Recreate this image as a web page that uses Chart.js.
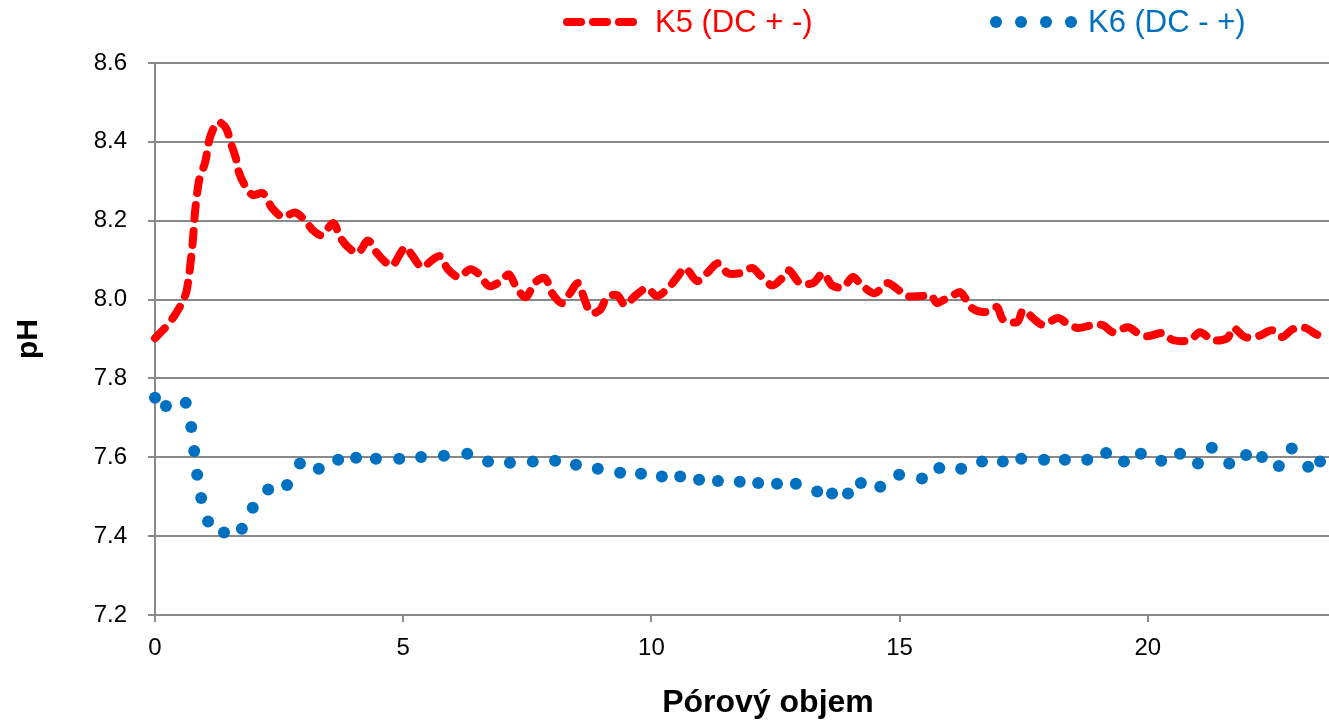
<!DOCTYPE html>
<html>
<head>
<meta charset="utf-8">
<title>pH - Pórový objem</title>
<script src="https://cdn.jsdelivr.net/npm/chart.js@4.4.1/dist/chart.umd.min.js"></script>
<style>
  html, body { margin: 0; padding: 0; background: #ffffff; }
  #graficoPh { display: block; }
</style>
</head>
<body>
<canvas id="graficoPh" width="1329" height="721"></canvas>
<script>
// K5 (DC + -) - cervena carkovana
const k5X = [0, 0.20, 0.36, 0.54, 0.64, 0.75, 0.81, 0.89, 1.01, 1.11, 1.27, 1.43, 1.53, 1.63, 1.69, 1.81, 1.97,
  2.17, 2.36, 2.58, 2.82, 3.02, 3.18, 3.36, 3.59, 3.73, 3.89, 4.09, 4.29, 4.47, 4.67, 4.79, 5.04, 5.18, 5.38,
  5.58, 5.74, 5.90, 6.12, 6.35, 6.53, 6.73, 6.97, 7.13, 7.29, 7.47, 7.66, 7.86, 8.00, 8.20, 8.36, 8.52, 8.66,
  8.78, 8.96, 9.11, 9.31, 9.47, 9.67, 9.91, 10.11, 10.35, 10.52, 10.68, 10.92, 11.12, 11.34, 11.54, 11.78,
  12.03, 12.19, 12.43, 12.63, 12.77, 12.99, 13.26, 13.46, 13.64, 13.86, 14.06, 14.24, 14.50, 14.75, 14.91,
  15.15, 15.45, 15.63, 15.75, 15.87, 16.08, 16.22, 16.32, 16.46, 16.72, 16.96, 17.08, 17.37, 17.49, 17.73,
  17.89, 18.19, 18.37, 18.59, 18.88, 19.10, 19.30, 19.60, 19.80, 20.00, 20.29, 20.51, 20.85, 21.05, 21.31,
  21.60, 21.72, 21.96, 22.22, 22.50, 22.70, 22.92, 23.17, 23.43, 23.65];
const k5Y = [7.902, 7.928, 7.953, 7.991, 8.024, 8.133, 8.227, 8.303, 8.348, 8.412, 8.450, 8.435, 8.396, 8.358,
  8.323, 8.290, 8.265, 8.270, 8.232, 8.209, 8.221, 8.201, 8.176, 8.163, 8.194, 8.158, 8.133, 8.118, 8.150,
  8.118, 8.092, 8.087, 8.133, 8.112, 8.082, 8.100, 8.110, 8.077, 8.057, 8.077, 8.064, 8.034, 8.047, 8.064,
  8.029, 8.006, 8.044, 8.054, 8.016, 7.991, 8.016, 8.042, 7.998, 7.966, 7.973, 8.006, 8.011, 7.986, 8.009,
  8.029, 8.009, 8.031, 8.057, 8.080, 8.047, 8.067, 8.092, 8.067, 8.067, 8.080, 8.062, 8.036, 8.054, 8.074,
  8.042, 8.042, 8.067, 8.036, 8.031, 8.057, 8.036, 8.016, 8.042, 8.031, 8.009, 8.009, 8.011, 7.991, 7.998,
  8.011, 8.019, 8.004, 7.978, 7.968, 7.981, 7.950, 7.943, 7.973, 7.948, 7.936, 7.953, 7.940, 7.928, 7.935,
  7.935, 7.917, 7.930, 7.915, 7.907, 7.915, 7.897, 7.897, 7.917, 7.897, 7.902, 7.928, 7.905, 7.907, 7.922,
  7.905, 7.925, 7.928, 7.910, 7.910];

// K6 (DC - +) - modre tecky
const k6X = [0, 0.22, 0.62, 0.73, 0.79, 0.85, 0.93, 1.07, 1.39, 1.75, 1.97, 2.28, 2.66, 2.92, 3.30, 3.69, 4.05,
  4.45, 4.92, 5.36, 5.82, 6.29, 6.71, 7.15, 7.61, 8.06, 8.48, 8.92, 9.37, 9.79, 10.21, 10.58, 10.96, 11.34,
  11.78, 12.15, 12.53, 12.91, 13.34, 13.64, 13.96, 14.22, 14.61, 14.99, 15.45, 15.80, 16.24, 16.66, 17.08,
  17.45, 17.91, 18.33, 18.78, 19.16, 19.52, 19.86, 20.27, 20.65, 21.01, 21.29, 21.64, 21.98, 22.30, 22.64,
  22.90, 23.23, 23.47];
const k6Y = [7.751, 7.730, 7.738, 7.677, 7.616, 7.556, 7.497, 7.437, 7.409, 7.419, 7.472, 7.518, 7.530, 7.584,
  7.571, 7.594, 7.599, 7.596, 7.596, 7.601, 7.604, 7.609, 7.589, 7.586, 7.589, 7.591, 7.581, 7.571, 7.561,
  7.558, 7.551, 7.551, 7.543, 7.540, 7.538, 7.535, 7.533, 7.533, 7.513, 7.508, 7.508, 7.535, 7.525, 7.556,
  7.546, 7.573, 7.571, 7.589, 7.589, 7.596, 7.594, 7.594, 7.594, 7.611, 7.589, 7.609, 7.591, 7.609, 7.584,
  7.624, 7.584, 7.606, 7.601, 7.578, 7.622, 7.576, 7.589];

// popisky os
const xTicks = [0, 5, 10, 15, 20];
const yTicks = [7.2, 7.4, 7.6, 7.8, 8.0, 8.2, 8.4, 8.6];
const seriesNames = ['K5 (DC + -)', 'K6 (DC - +)'];
const xTitle = 'Pórový objem';

const red = '#FF0000';
const blue = '#0070C0';
const gridColor = '#898989';
const font = "'Liberation Sans', Arial, sans-serif";

function body(xs, ys) {
  return xs.map((x, i) => ({ x: x, y: ys[i] }));
}

// legenda nahore (carky / tecky + text) a popis osy x
const legendaPlugin = {
  id: 'legenda',
  afterDraw(chart) {
    const ctx = chart.ctx;
    const y = 22;
    ctx.save();
    ctx.lineCap = 'round';
    ctx.strokeStyle = red;
    ctx.lineWidth = 8;
    ctx.setLineDash([14, 12]);
    ctx.beginPath();
    ctx.moveTo(567, y);
    ctx.lineTo(636, y);
    ctx.stroke();
    ctx.setLineDash([]);

    ctx.fillStyle = blue;
    [996, 1021, 1046, 1071].forEach(function (x) {
      ctx.beginPath();
      ctx.arc(x, y, 6, 0, Math.PI * 2);
      ctx.fill();
    });

    ctx.font = '31px ' + font;
    ctx.textBaseline = 'middle';
    ctx.textAlign = 'left';
    ctx.fillStyle = red;
    ctx.fillText(seriesNames[0], 655, y + 1);
    ctx.fillStyle = blue;
    ctx.fillText(seriesNames[1], 1088, y + 1);

    // nazev osy x (v originale posunuty doprava)
    ctx.font = 'bold 32px ' + font;
    ctx.textAlign = 'center';
    ctx.fillStyle = '#000000';
    ctx.fillText(xTitle, 768, 703);
    ctx.restore();
  }
};

new Chart(document.getElementById('graficoPh'), {
  type: 'line',
  data: {
    datasets: [{
      label: seriesNames[1],
      data: body(k6X, k6Y),
      showLine: false,
      pointRadius: 6,
      pointHoverRadius: 6,
      pointBorderWidth: 0,
      pointBackgroundColor: blue,
      borderColor: blue,
      clip: false
    },
    {
      label: seriesNames[0],
      data: body(k5X, k5Y),
      borderColor: red,
      borderWidth: 8,
      borderDash: [14, 12],
      borderCapStyle: 'round',
      borderJoinStyle: 'round',
      tension: 0.3,
      pointRadius: 0,
      fill: false,
      clip: 6
    }]
  },
  options: {
    responsive: false,
    animation: false,
    layout: { autoPadding: false, padding: { top: 63, right: 0, left: 0, bottom: 0 } },
    plugins: {
      legend: { display: false },
      tooltip: { enabled: false }
    },
    scales: {
      x: {
        type: 'linear',
        min: 0,
        max: 23.65,
        afterBuildTicks: function (axis) {
          axis.ticks = xTicks.map(v => ({ value: v }));
        },
        afterFit: function (axis) {
          axis.height = 106;
          axis.paddingLeft = 0;
          axis.paddingRight = 0;
        },
        grid: {
          drawOnChartArea: false,
          drawTicks: true,
          tickLength: 7,
          color: gridColor,
          lineWidth: 2
        },
        border: { display: true, color: gridColor, width: 2 },
        ticks: {
          padding: 12,
          color: '#000000',
          font: { family: font, size: 24 },
          callback: v => String(v)
        },
        title: { display: false }
      },
      y: {
        min: 7.2,
        max: 8.6,
        afterBuildTicks: function (axis) {
          axis.ticks = yTicks.map(v => ({ value: v }));
        },
        afterFit: function (axis) {
          axis.width = 155;
          axis.paddingTop = 0;
          axis.paddingBottom = 0;
        },
        grid: {
          color: gridColor,
          lineWidth: 2,
          tickLength: 7
        },
        border: { display: true, color: gridColor, width: 2 },
        ticks: {
          padding: 21,
          color: '#000000',
          font: { family: font, size: 24 },
          callback: v => v.toFixed(1)
        },
        title: {
          display: true,
          text: 'pH',
          color: '#000000',
          font: { family: font, size: 30, weight: 'bold' },
          padding: { top: 11, bottom: 0 }
        }
      }
    }
  },
  plugins: [legendaPlugin]
});
</script>
</body>
</html>
